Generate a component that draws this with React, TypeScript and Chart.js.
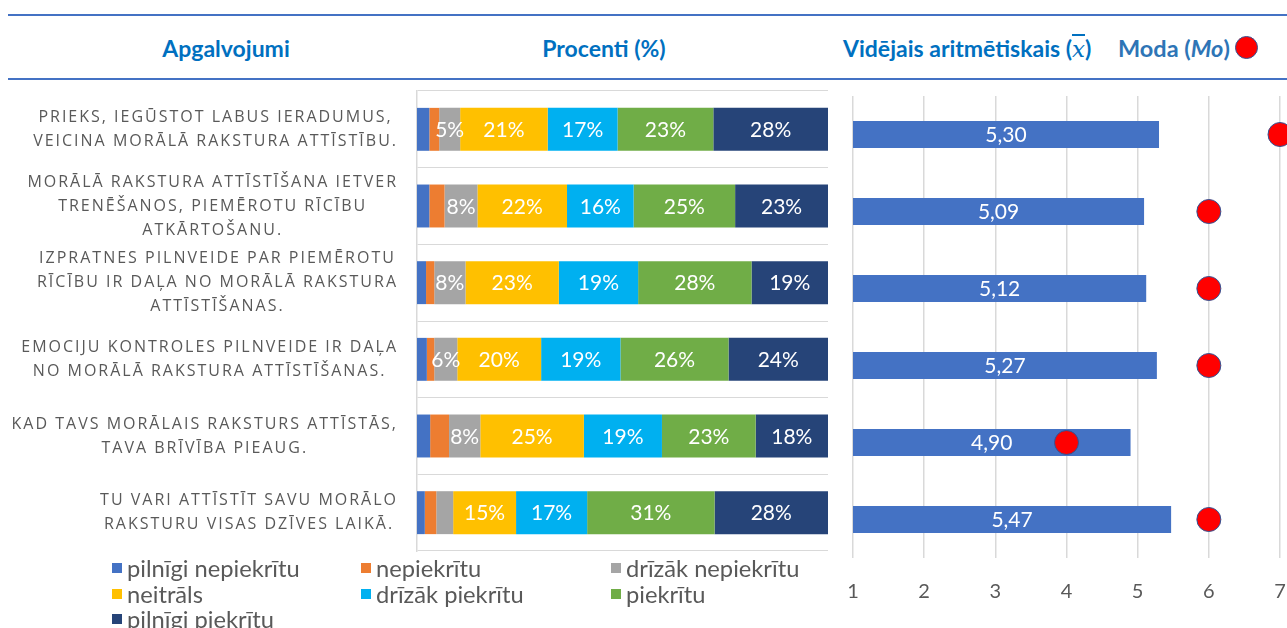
import React, { useEffect, useRef } from "react";
import { Chart, registerables } from "chart.js";

Chart.register(...registerables);

// ---------- data ----------
const categories: string[][] = [
  ["PRIEKS, IEGŪSTOT LABUS IERADUMUS,", "VEICINA MORĀLĀ RAKSTURA ATTĪSTĪBU."],
  ["MORĀLĀ RAKSTURA ATTĪSTĪŠANA IETVER", "TRENĒŠANOS, PIEMĒROTU RĪCĪBU", "ATKĀRTOŠANU."],
  ["IZPRATNES PILNVEIDE PAR PIEMĒROTU", "RĪCĪBU IR DAĻA NO MORĀLĀ RAKSTURA", "ATTĪSTĪŠANAS."],
  ["EMOCIJU KONTROLES PILNVEIDE IR DAĻA", "NO MORĀLĀ RAKSTURA ATTĪSTĪŠANAS."],
  ["KAD TAVS MORĀLAIS RAKSTURS ATTĪSTĀS,", "TAVA BRĪVĪBA PIEAUG."],
  ["TU VARI ATTĪSTĪT SAVU MORĀLO", "RAKSTURU VISAS DZĪVES LAIKĀ."],
];

const seriesNames = [
  "pilnīgi nepiekrītu",
  "nepiekrītu",
  "drīzāk nepiekrītu",
  "neitrāls",
  "drīzāk piekrītu",
  "piekrītu",
  "pilnīgi piekrītu",
];
const seriesColors = ["#4472C4", "#ED7D31", "#A5A5A5", "#FFC000", "#00B0F0", "#70AD47", "#264478"];

const pilnigiNepiekritu = [3.0, 3.0, 2.2, 2.4, 3.2, 1.9];
const nepiekritu = [2.4, 3.7, 2.0, 1.8, 4.6, 2.8];
const drizakNepiekritu = [5.1, 8.0, 7.6, 5.6, 7.6, 4.1];
const neitrals = [21.3, 21.8, 22.7, 20.4, 25.2, 15.3];
const drizakPiekritu = [17.0, 16.2, 19.3, 19.3, 19.0, 17.3];
const piekritu = [23.3, 24.7, 27.6, 26.3, 22.8, 31.0];
const pilnigiPiekritu = [27.9, 22.6, 18.6, 24.2, 17.6, 27.6];

const meanValues = [5.3, 5.09, 5.12, 5.27, 4.9, 5.47];
const modeValues = [7, 6, 6, 6, 4, 6];
const meanTicks = [1, 2, 3, 4, 5, 6, 7];

const seriesData = [
  pilnigiNepiekritu,
  nepiekritu,
  drizakNepiekritu,
  neitrals,
  drizakPiekritu,
  piekritu,
  pilnigiPiekritu,
];

const GRID = "#d9d9d9";
const TEXT_GRAY = "#595959";

// ---------- plugins ----------
const categoryLabelPlugin = {
  id: "categoryLabels",
  afterDraw(chart: any) {
    const ctx = chart.ctx as CanvasRenderingContext2D;
    const yScale = chart.scales.y;
    ctx.save();
    ctx.font = '16px "Open Sans"';
    (ctx as any).letterSpacing = "2px";
    ctx.fillStyle = TEXT_GRAY;
    ctx.textAlign = "center";
    ctx.textBaseline = "middle";
    const right = chart.chartArea.left - 19;
    const lh = 24;
    categories.forEach((lines, i) => {
      const cy = yScale.getPixelForValue(i);
      const w = Math.max(...lines.map((l) => ctx.measureText(l).width));
      const cx = right - w / 2;
      lines.forEach((l, j) => {
        ctx.fillText(l, cx, cy + (j - (lines.length - 1) / 2) * lh);
      });
    });
    ctx.restore();
  },
};

const percentLabelPlugin = {
  id: "percentLabels",
  afterDatasetsDraw(chart: any) {
    const ctx = chart.ctx as CanvasRenderingContext2D;
    ctx.save();
    ctx.font = "21px Lato";
    ctx.fillStyle = "#ffffff";
    ctx.textAlign = "center";
    ctx.textBaseline = "middle";
    chart.data.datasets.forEach((ds: any, di: number) => {
      const meta = chart.getDatasetMeta(di);
      meta.data.forEach((el: any, i: number) => {
        const v = ds.data[i] as number;
        if (v < 5) return;
        const p = el.getProps(["x", "y", "base"], true);
        ctx.fillText(Math.round(v) + "%", (p.x + p.base) / 2, p.y + 1);
      });
    });
    ctx.restore();
  },
};

const meanLabelPlugin = {
  id: "meanLabels",
  afterDatasetsDraw(chart: any) {
    const ctx = chart.ctx as CanvasRenderingContext2D;
    const left = chart.chartArea.left;
    ctx.save();
    ctx.font = "21px Lato";
    ctx.fillStyle = "#ffffff";
    ctx.textAlign = "center";
    ctx.textBaseline = "middle";
    chart.data.datasets.forEach((ds: any, di: number) => {
      if (ds.type !== "bar") return;
      const meta = chart.getDatasetMeta(di);
      meta.data.forEach((el: any, i: number) => {
        const v = ds.data[i] as number;
        const p = el.getProps(["x", "y", "base"], true);
        const start = Math.max(p.base, left);
        ctx.fillText(v.toFixed(2).replace(".", ","), (p.x + start) / 2, p.y + 1);
      });
    });
    ctx.restore();
  },
};

// ---------- components ----------
function PercentChart() {
  const ref = useRef<HTMLCanvasElement | null>(null);
  useEffect(() => {
    if (!ref.current) return;
    const chart = new Chart(ref.current, {
      type: "bar",
      data: {
        labels: categories as any,
        datasets: seriesNames.map((n, i) => ({
          label: n,
          data: seriesData[i],
          backgroundColor: seriesColors[i],
          borderWidth: 0,
          barPercentage: 0.56,
          categoryPercentage: 1,
        })),
      },
      options: {
        indexAxis: "y",
        responsive: false,
        animation: false,
        layout: { autoPadding: false, padding: { top: 11, bottom: 9, right: 12, left: 0 } },
        scales: {
          x: { stacked: true, min: 0, max: 100, display: false },
          y: {
            stacked: true,
            afterFit: (s: any) => {
              s.width = 417;
            },
            ticks: { display: false },
            grid: { color: GRID, lineWidth: 1, drawTicks: false, offset: true },
            border: { color: GRID, width: 1.5 },
          },
        },
        plugins: { legend: { display: false }, tooltip: { enabled: false } },
      } as any,
      plugins: [categoryLabelPlugin, percentLabelPlugin],
    });
    return () => chart.destroy();
  }, []);
  return (
    <canvas
      ref={ref}
      width={840}
      height={480}
      style={{ position: "absolute", left: 0, top: 80, width: 840, height: 480 }}
    />
  );
}

function MeanChart() {
  const ref = useRef<HTMLCanvasElement | null>(null);
  useEffect(() => {
    if (!ref.current) return;
    const chart = new Chart(ref.current, {
      type: "bar",
      data: {
        labels: categories.map((c) => c.join(" ")),
        datasets: [
          {
            type: "line",
            label: "Moda",
            data: modeValues,
            showLine: false,
            pointRadius: 12,
            pointBackgroundColor: "#FF0000",
            pointBorderColor: "#2F5597",
            pointBorderWidth: 1,
            order: 1,
            clip: false,
          } as any,
          {
            type: "bar",
            label: "Vidējais aritmētiskais",
            data: meanValues,
            backgroundColor: "#4472C4",
            borderWidth: 0,
            barPercentage: 0.35,
            categoryPercentage: 1,
            order: 2,
          },
        ],
      },
      options: {
        indexAxis: "y",
        responsive: false,
        animation: false,
        layout: { autoPadding: false, padding: { top: 16, bottom: 0, right: 7, left: 13 } },
        scales: {
          x: {
            type: "linear",
            min: meanTicks[0],
            max: meanTicks[meanTicks.length - 1],
            afterBuildTicks: (s: any) => {
              s.ticks = meanTicks.map((v) => ({ value: v }));
            },
            afterFit: (s: any) => {
              s.height = 52;
            },
            ticks: {
              color: TEXT_GRAY,
              font: { family: "Lato", size: 20 },
              padding: 0,
            },
            grid: {
              color: GRID,
              lineWidth: 1.5,
              drawTicks: true,
              tickLength: 22,
              tickColor: "rgba(0,0,0,0)",
            },
            border: { display: false },
          },
          y: { display: false },
        },
        plugins: { legend: { display: false }, tooltip: { enabled: false } },
      } as any,
      plugins: [meanLabelPlugin],
    });
    return () => chart.destroy();
  }, []);
  return (
    <canvas
      ref={ref}
      width={447}
      height={530}
      style={{ position: "absolute", left: 840, top: 80, width: 447, height: 530 }}
    />
  );
}

const headerStyle: React.CSSProperties = {
  position: "absolute",
  top: 34,
  height: 28,
  lineHeight: "28px",
  fontFamily: "Lato",
  fontWeight: 700,
  fontSize: 23,
  color: "#0070C0",
  whiteSpace: "nowrap",
};

export default function App() {
  return (
    <div
      style={{
        position: "absolute",
        left: 0,
        top: 0,
        width: 1287,
        height: 628,
        overflow: "hidden",
        background: "#ffffff",
      }}
    >
      <div style={{ position: "absolute", left: 8, top: 14, width: 1279, height: 2, background: "#4472C4" }} />
      <div style={{ position: "absolute", left: 8, top: 78, width: 1279, height: 2, background: "#4472C4" }} />
      <div style={{ ...headerStyle, left: 126, width: 200, textAlign: "center" }}>Apgalvojumi</div>
      <div style={{ ...headerStyle, left: 504, width: 200, textAlign: "center" }}>Procenti (%)</div>
      <div style={{ ...headerStyle, left: 843 }}>
        Vidējais aritmētiskais (
        <span style={{ fontFamily: "DejaVu Serif", fontStyle: "italic", fontWeight: 400, textDecoration: "overline" }}>x</span>)
      </div>
      <div style={{ ...headerStyle, left: 1118, color: "#2E75B6", fontSize: 23.5 }}>
        Moda (<span style={{ fontStyle: "italic" }}>Mo</span>)
      </div>
      <div
        style={{
          position: "absolute",
          left: 1235,
          top: 36,
          width: 23,
          height: 23,
          borderRadius: "50%",
          background: "#FF0000",
          boxSizing: "border-box",
          border: "1px solid #2F5597",
        }}
      />
      <PercentChart />
      <MeanChart />
      {seriesNames.map((n, i) => {
        const col = i % 3;
        const row = Math.floor(i / 3);
        return (
          <div
            key={n}
            style={{
              position: "absolute",
              left: [112, 361, 611][col],
              top: 556 + row * 25.5,
              height: 24,
              lineHeight: "24px",
              fontFamily: "Lato",
              fontSize: 23.7,
              color: TEXT_GRAY,
              whiteSpace: "nowrap",
              display: "flex",
              alignItems: "center",
            }}
          >
            <span
              style={{
                display: "inline-block",
                width: 10,
                height: 10,
                background: seriesColors[i],
                marginRight: 5,
              }}
            />
            {n}
          </div>
        );
      })}
    </div>
  );
}
